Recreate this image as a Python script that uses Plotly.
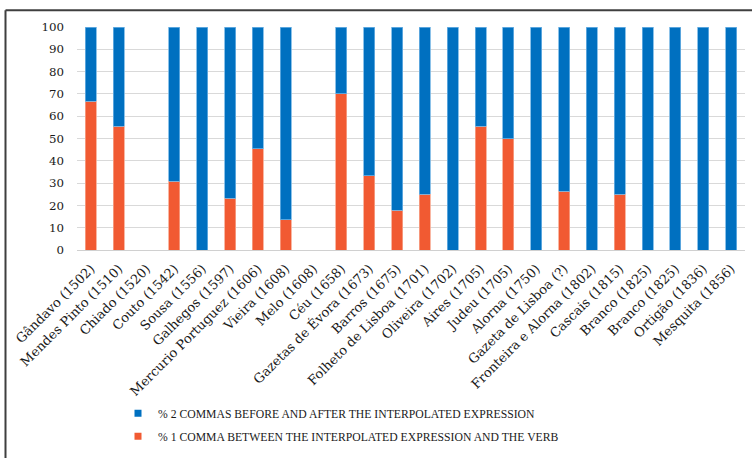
import plotly.graph_objects as go

categories = ["Gândavo (1502)", "Mendes Pinto (1510)", "Chiado (1520)", "Couto (1542)",
              "Sousa (1556)", "Galhegos (1597)", "Mercurio Portuguez (1606)", "Vieira (1608)",
              "Melo (1608)", "Céu (1658)", "Gazetas de Évora (1673)", "Barros (1675)",
              "Folheto de Lisboa (1701)", "Oliveira (1702)", "Aires (1705)", "Judeu (1705)",
              "Alorna (1750)", "Gazeta de Lisboa (?)", "Fronteira e Alorna (1802)", "Cascais (1815)",
              "Branco (1825)", "Branco (1825)", "Ortigão (1836)", "Mesquita (1856)"]
one_comma = [66.7, 55.6, 0, 30.8, 0, 23.1, 45.5, 13.5, 0, 70, 33.3, 17.8,
             25, 0, 55.6, 50, 0, 26.3, 0, 25, 0, 0, 0, 0]
two_commas = [33.3, 44.4, 0, 69.2, 100, 76.9, 54.5, 86.5, 0, 30, 66.7, 82.2,
              75, 100, 44.4, 50, 100, 73.7, 100, 75, 100, 100, 100, 100]
y_ticks = [0, 10, 20, 30, 40, 50, 60, 70, 80, 90, 100]

name_one = "% 1 COMMA BETWEEN THE INTERPOLATED EXPRESSION AND THE VERB"
name_two = "% 2 COMMAS BEFORE AND AFTER THE INTERPOLATED EXPRESSION"

BLUE = "#0070C0"
ORANGE = "#F15A32"

x = list(range(len(categories)))

fig = go.Figure()
fig.add_trace(go.Bar(x=x, y=one_comma, name=name_one, showlegend=False,
                     marker=dict(color=ORANGE, line=dict(color="#F7A58C", width=0.8))))
fig.add_trace(go.Bar(x=x, y=two_commas, name=name_two, showlegend=False,
                     marker=dict(color=BLUE, line=dict(color="#6FB3E4", width=0.8))))
# legend-only entries with small square symbols
fig.add_trace(go.Scatter(x=[None], y=[None], mode="markers", name=name_two, legendgroup="a",
                         marker=dict(symbol="square", size=7, color=BLUE)))
fig.add_trace(go.Scatter(x=[None], y=[None], mode="markers", name=name_one, legendgroup="b",
                         marker=dict(symbol="square", size=7, color=ORANGE)))

L, R, T, B = 77, 7, 27, 206
W, H = 752, 458
pw, ph = W - L - R, H - T - B

def px_x(p):
    return (p - L) / pw

def px_y(p):
    return (H - B - p) / ph

fig.update_layout(
    width=W, height=H,
    margin=dict(l=L, r=R, t=T, b=B),
    paper_bgcolor="white", plot_bgcolor="white",
    barmode="stack", bargap=0.6,
    font=dict(family="DejaVu Serif", color="#1A1A1A"),
    xaxis=dict(range=[-0.5, len(categories) - 0.5], tickmode="array", tickvals=x,
               ticktext=categories, tickangle=-45, tickfont=dict(size=13, family="DejaVu Serif"),
               showgrid=False, showline=True, linecolor="#D0D0D0", linewidth=1,
               ticks="outside", ticklen=5, tickcolor="rgba(0,0,0,0)"),
    yaxis=dict(range=[0, 100], tickmode="array", tickvals=y_ticks, showgrid=True,
               gridcolor="#D9D9D9", gridwidth=1, zeroline=False, ticks="",
               ticklabelstandoff=12, tickfont=dict(size=11.8, family="DejaVu Serif")),
    legend=dict(x=px_x(118), y=px_y(402), xanchor="left", yanchor="top",
                orientation="v", tracegroupgap=4,
                font=dict(family="Liberation Serif", size=11.7, color="#1A1A1A"),
                bgcolor="rgba(0,0,0,0)"),
    shapes=[
        dict(type="line", xref="paper", yref="paper", x0=px_x(5.5), x1=px_x(760),
             y0=px_y(10), y1=px_y(10), line=dict(color="#3F3F3F", width=2)),
        dict(type="line", xref="paper", yref="paper", x0=px_x(5.5), x1=px_x(5.5),
             y0=px_y(10), y1=px_y(470), line=dict(color="#3F3F3F", width=2)),
    ],
)

fig.write_html("out.html")
